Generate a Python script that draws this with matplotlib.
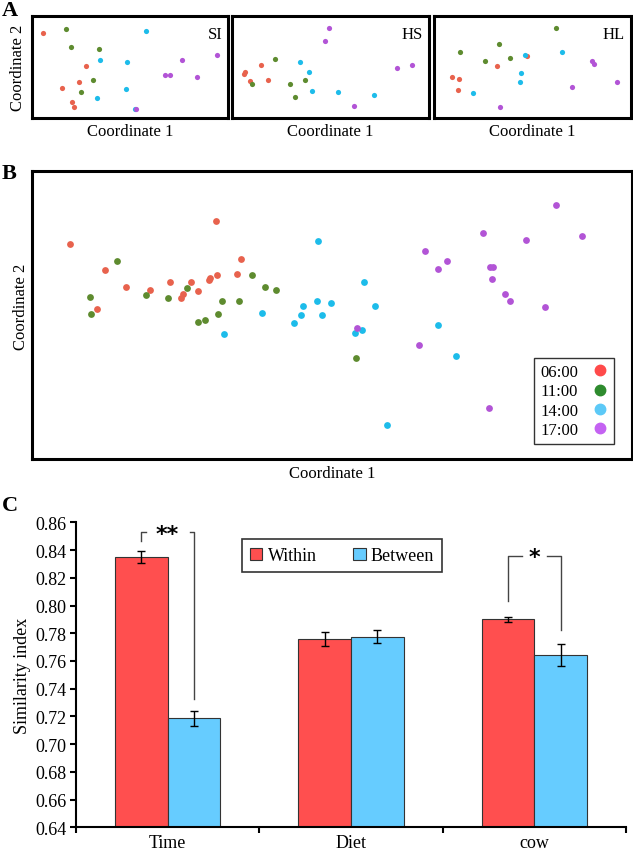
import matplotlib.pyplot as plt
from matplotlib.lines import Line2D

plt.rcParams["font.family"] = ["Liberation Serif", "DejaVu Serif"]

times = ["06:00", "11:00", "14:00", "17:00"]
dot_colors = ["#E8624D", "#5E8B2F", "#1DBCEA", "#B254D6"]
legend_colors = ["#FF4A4A", "#2E8B2E", "#5CC9F7", "#C462F2"]

# panel A: ordination points per diet (arbitrary units 0-100)
si_points = {
    "06:00": [(5.5, 83.3), (27.7, 51.3), (24.0, 35.6), (15.3, 29.1), (20.6, 15.4), (21.3, 10.8)],
    "11:00": [(17.5, 87.3), (19.9, 69.6), (34.2, 67.4), (31.0, 37.3), (25.0, 25.5)],
    "14:00": [(58.2, 85.3), (34.7, 56.9), (48.3, 54.6), (48.1, 28.1), (33.3, 19.3), (52.7, 8.8)],
    "17:00": [(53.1, 8.8), (76.4, 56.9), (67.7, 42.5), (70.3, 41.9), (84.0, 40.5), (94.5, 61.5)],
}
hs_points = {
    "06:00": [(6.4, 45.4), (6.2, 43.4), (14.6, 52.2), (9.1, 36.6), (18.1, 37.3)],
    "11:00": [(21.8, 57.8), (10.0, 33.3), (29.3, 33.3), (36.9, 37.3), (31.8, 20.6)],
    "14:00": [(34.4, 54.6), (38.9, 44.8), (40.8, 26.2), (53.7, 25.2), (71.9, 22.5)],
    "17:00": [(49.4, 88.2), (47.2, 75.2), (83.9, 49.3), (91.2, 52.0), (62.1, 11.5)],
}
hl_points = {
    "06:00": [(9.1, 40.5), (12.9, 38.5), (12.4, 27.5), (31.8, 51.0), (47.4, 61.1)],
    "11:00": [(13.2, 64.4), (25.9, 55.9), (32.9, 72.2), (38.4, 58.8), (61.9, 88.2)],
    "14:00": [(46.0, 61.5), (64.8, 64.4), (44.3, 43.8), (43.7, 35.3), (19.8, 24.2)],
    "17:00": [(80.0, 55.9), (81.0, 52.6), (92.7, 35.6), (70.1, 30.4), (33.5, 11.1)],
}
panel_a_names = ["SI", "HS", "HL"]

# panel B: all diets pooled
all_points = {
    "06:00": [(6.4, 74.7), (12.2, 65.5), (15.6, 59.6), (10.8, 52.0), (19.7, 58.8), (23.0, 61.6),
              (25.1, 57.4), (24.9, 55.9), (26.5, 61.4), (27.7, 58.2), (29.6, 62.7), (29.5, 62.0),
              (30.9, 64.0), (30.7, 82.7), (34.2, 64.1), (34.8, 69.4)],
    "11:00": [(14.2, 68.9), (9.7, 56.1), (9.8, 50.3), (19.0, 56.8), (22.7, 55.8), (25.8, 59.3),
              (27.7, 47.5), (28.8, 48.4), (31.0, 50.5), (31.7, 54.9), (34.5, 55.0), (36.6, 63.8),
              (38.8, 59.8), (40.7, 58.8), (54.0, 35.1)],
    "14:00": [(32.0, 43.3), (38.3, 50.6), (43.7, 47.2), (44.9, 49.9), (45.2, 53.1), (47.5, 54.8),
              (47.6, 75.6), (49.8, 54.1), (48.4, 50.0), (55.3, 61.4), (57.2, 53.0), (53.9, 43.9),
              (55.0, 44.9), (67.7, 46.5), (70.7, 35.7), (59.2, 11.9)],
    "17:00": [(54.2, 45.6), (65.5, 72.3), (67.6, 66.1), (69.2, 68.6), (75.2, 78.5), (76.4, 66.8),
              (76.9, 66.8), (76.6, 62.4), (78.8, 57.4), (79.7, 54.8), (82.3, 76.0), (85.5, 52.8),
              (87.3, 88.1), (91.6, 77.5), (64.5, 39.7), (76.2, 17.7)],
}

# panel C: similarity index
groups = ["Time", "Diet", "cow"]
within_mean = [0.835, 0.776, 0.790]
within_err = [0.004, 0.005, 0.002]
between_mean = [0.7185, 0.7775, 0.764]
between_err = [0.0053, 0.0045, 0.008]

fig = plt.figure(figsize=(6.33, 8.54), dpi=100)

# ---- panel A
a_lefts = [0.0506, 0.3665, 0.6856]
a_widths = [0.3096, 0.3112, 0.3112]
for left, width, name, pts in zip(a_lefts, a_widths, panel_a_names, [si_points, hs_points, hl_points]):
    ax = fig.add_axes([left, 0.8607, width, 0.1194])
    for t, c in zip(times, dot_colors):
        xs = [p[0] for p in pts[t]]
        ys = [p[1] for p in pts[t]]
        ax.scatter(xs, ys, s=14, color=c, linewidths=0)
    ax.set_xlim(0, 100)
    ax.set_ylim(0, 100)
    ax.set_xticks([])
    ax.set_yticks([])
    for sp in ax.spines.values():
        sp.set_linewidth(2.2)
    ax.text(0.97, 0.9, name, transform=ax.transAxes, ha="right", va="top", fontsize=12)
    fig.text(left + width / 2, 0.846, "Coordinate 1", ha="center", va="center", fontsize=12)
fig.text(0.029, 0.92, "Coordinate 2", rotation=90, ha="center", va="center", fontsize=12)
fig.text(0.003, 0.987, "A", fontsize=16, fontweight="bold", va="center")

# ---- panel B
axb = fig.add_axes([0.0506, 0.4614, 0.9479, 0.3372])
for t, c in zip(times, dot_colors):
    xs = [p[0] for p in all_points[t]]
    ys = [p[1] for p in all_points[t]]
    axb.scatter(xs, ys, s=24, color=c, linewidths=0)
axb.set_xlim(0, 100)
axb.set_ylim(0, 100)
axb.set_xticks([])
axb.set_yticks([])
for sp in axb.spines.values():
    sp.set_linewidth(2.2)
handles = [Line2D([], [], marker="o", linestyle="none", color=c, markersize=7.5) for c in legend_colors]
leg = axb.legend(handles, times, loc="lower right", bbox_to_anchor=(0.97, 0.052), markerfirst=False,
                 fontsize=12, frameon=True, fancybox=False, edgecolor="black", labelspacing=0.2,
                 handletextpad=0.8, borderpad=0.35, handlelength=1.0, borderaxespad=0)
leg.get_frame().set_linewidth(1.0)
fig.text(0.033, 0.641, "Coordinate 2", rotation=90, ha="center", va="center", fontsize=12)
fig.text(0.525, 0.445, "Coordinate 1", ha="center", va="center", fontsize=12)
fig.text(0.003, 0.796, "B", fontsize=16, fontweight="bold", va="center")

# ---- panel C
axc = fig.add_axes([0.1201, 0.0301, 0.8689, 0.3571])
centers = [0.5, 1.5, 2.5]
bw = 0.287
axc.bar([c - bw / 2 for c in centers], within_mean, width=bw, color="#FF4F4F", edgecolor="#333333",
        linewidth=0.8, label="Within", zorder=2)
axc.bar([c + bw / 2 for c in centers], between_mean, width=bw, color="#66CCFF", edgecolor="#333333",
        linewidth=0.8, label="Between", zorder=2)
axc.errorbar([c - bw / 2 for c in centers], within_mean, yerr=within_err, fmt="none", ecolor="black",
             elinewidth=1, capsize=3, capthick=1, zorder=3)
axc.errorbar([c + bw / 2 for c in centers], between_mean, yerr=between_err, fmt="none", ecolor="black",
             elinewidth=1, capsize=3, capthick=1, zorder=3)
axc.set_xlim(0, 3)
axc.set_ylim(0.64, 0.86)
axc.set_yticks([0.64 + 0.02 * i for i in range(12)])
axc.set_yticklabels([f"{0.64 + 0.02 * i:.2f}" for i in range(12)], fontsize=13)
axc.set_xticks(centers)
axc.set_xticklabels(groups, fontsize=13)
axc.set_xticks([0, 1, 2, 3], minor=True)
axc.tick_params(axis="x", which="major", length=0, pad=5)
axc.tick_params(axis="x", which="minor", length=4, width=1.5, direction="out")
axc.tick_params(axis="y", length=4, width=1.5, direction="out", pad=3)
axc.spines["top"].set_visible(False)
axc.spines["right"].set_visible(False)
axc.spines["left"].set_linewidth(1.5)
axc.spines["bottom"].set_linewidth(1.5)
axc.set_ylabel("Similarity index", fontsize=13, labelpad=3)


# significance brackets
def bracket(x1, x2, y1_low, y2_low, y_top, label):
    gap = 0.12 if label == "**" else 0.07
    xm = (x1 + x2) / 2
    axc.plot([x1, x1, xm - gap], [y1_low, y_top, y_top], color="#444444", lw=1)
    axc.plot([xm + gap, x2, x2], [y_top, y_top, y2_low], color="#444444", lw=1)
    axc.text(xm, y_top - 0.001, label, ha="center", va="center", fontsize=16, fontweight="bold",
             family="DejaVu Sans")


bracket(centers[0] - bw / 2, centers[0] + bw / 2, 0.8467, 0.7325, 0.8528, "**")
bracket(centers[2] - bw / 2, centers[2] + bw / 2, 0.8034, 0.7825, 0.8359, "*")

legc = axc.legend(loc="upper left", bbox_to_anchor=(0.301, 0.945), ncol=2, fontsize=13, frameon=True,
                  fancybox=False, edgecolor="black", handlelength=0.7, handleheight=0.7,
                  handletextpad=0.3, columnspacing=2.0, borderpad=0.45, borderaxespad=0)
legc.get_frame().set_linewidth(1.2)
fig.text(0.003, 0.407, "C", fontsize=16, fontweight="bold", va="center")

fig.savefig("out.png", dpi=100)
